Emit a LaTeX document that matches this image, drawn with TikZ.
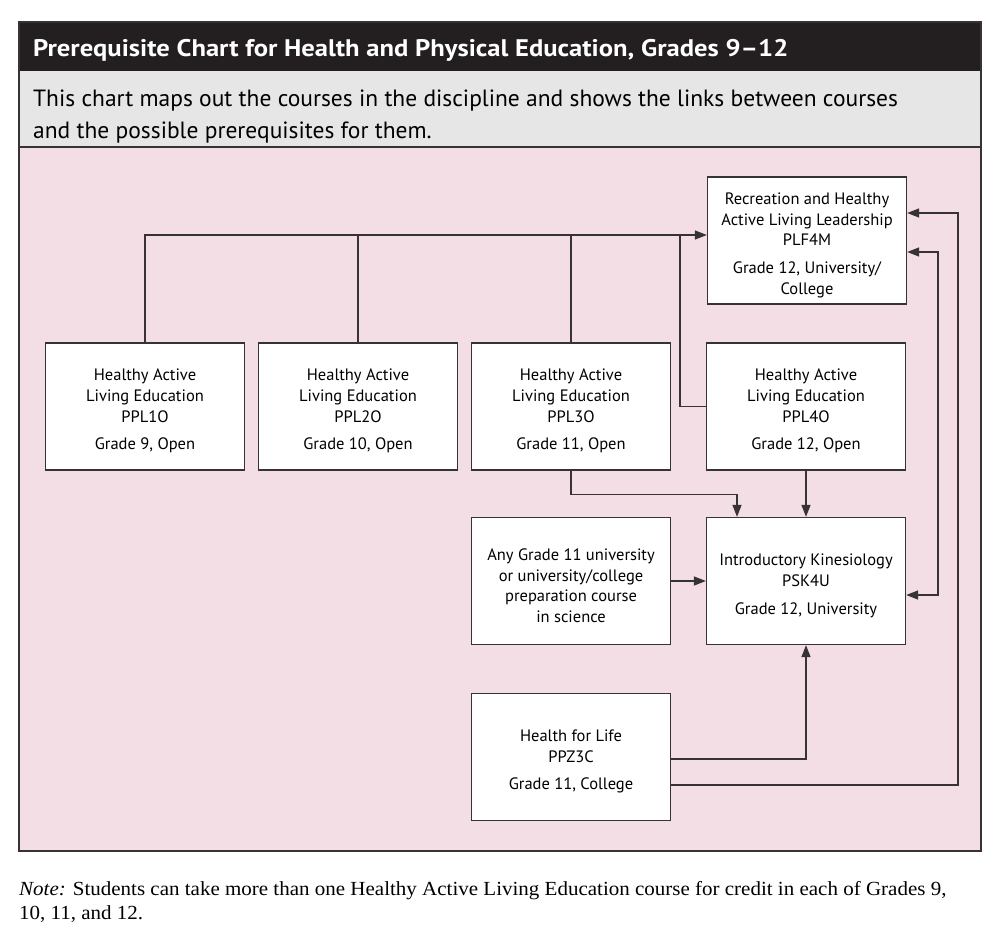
\documentclass[tikz,border=0pt]{standalone}
\usepackage{fontspec}
\setmainfont{PT Sans}
\newfontfamily\notefont{Liberation Serif}
\usetikzlibrary{arrows.meta,calc}
\definecolor{pinkbg}{RGB}{242,222,228}
\definecolor{grayband}{RGB}{230,230,230}
\definecolor{darkband}{RGB}{35,31,32}
\definecolor{linec}{RGB}{55,50,52}
\newcommand{\topstrut}{\rule{0pt}{21pt}}
\tikzset{
  course/.style={draw=linec, line width=1.3pt, fill=white, minimum width=199pt, minimum height=127pt, align=center, inner sep=0pt, font=\fontsize{16.5}{20.7}\selectfont},
  conn/.style={draw=linec, line width=1.3pt},
  arr/.style={conn, -{Triangle[length=12pt,width=9pt]}},
  arrtwo/.style={conn, {Triangle[length=12pt,width=9pt]}-{Triangle[length=12pt,width=9pt]}}
}
\begin{document}
\begin{tikzpicture}[x=1pt,y=-1pt]
\useasboundingbox (0,0) rectangle (1000,936);
\fill[white] (0,0) rectangle (1000,936);
% frame bands
\fill[darkband] (19,22) rectangle (981,71);
\fill[grayband] (19,71) rectangle (981,147);
\fill[pinkbg] (19,147) rectangle (981,851);
\draw[linec, line width=1.3pt] (19,147) -- (981,147);
\draw[linec, line width=1.3pt] (19,22) rectangle (981,851);
\node[anchor=base west, text=white, inner sep=0pt, font=\fontsize{24}{28}\selectfont\bfseries] (title) at (33,57) {\scalebox{1.108}[1]{Prerequisite Chart for Health and Physical Education, Grades 9--12}};
\node[anchor=base west, inner sep=0pt, font=\fontsize{23.5}{31.5}\selectfont] (sub) at (33,107) {This chart maps out the courses in the discipline and shows the links between courses};
\node[anchor=base west, inner sep=0pt, font=\fontsize{23.5}{31.5}\selectfont] (sub2) at (33,138.5) {and the possible prerequisites for them.};
% boxes
\node[course] (plf) at (807,240.5) {\topstrut Recreation and Healthy\\Active Living Leadership\\PLF4M\\[7pt]Grade 12, University/\\College};
\node[course] (p1) at (145,406.5) {\topstrut Healthy Active\\Living Education\\PPL1O\\[7pt]Grade 9, Open};
\node[course] (p2) at (358,406.5) {\topstrut Healthy Active\\Living Education\\PPL2O\\[7pt]Grade 10, Open};
\node[course] (p3) at (571,406.5) {\topstrut Healthy Active\\Living Education\\PPL3O\\[7pt]Grade 11, Open};
\node[course] (p4) at (806,406.5) {\topstrut Healthy Active\\Living Education\\PPL4O\\[7pt]Grade 12, Open};
\node[course] (any) at (571,581) {\topstrut Any Grade 11 university\\or university/college\\preparation course\\in science};
\node[course] (psk) at (806,581) {\topstrut Introductory Kinesiology\\PSK4U\\[7pt]Grade 12, University};
\node[course] (ppz) at (571,757) {\topstrut Health for Life\\PPZ3C\\[7pt]Grade 11, College};
% connectors
\coordinate (plfin) at ($(plf.west)+(0,-5.5)$);
\coordinate (jn) at (680,235);
\draw[arr] (p1.north) |- (plfin);
\draw[conn] (p2.north) -- (p2.north |- plfin);
\draw[conn] (p3.north) -- (p3.north |- plfin);
\draw[conn] (p4.west) -| (jn);
\coordinate (pskin) at ($(psk.north)+(-69,0)$);
\draw[arr] (p3.south) -- ++(0,24) -| (pskin);
\draw[arr] (p4.south) -- (psk.north);
\draw[arr] (any.east) -- (psk.west);
\draw[arr] ($(ppz.east)+(0,2)$) -| (psk.south);
\coordinate (c1) at (958,213);
\draw[arr] ($(ppz.east)+(0,28)$) -| (c1) -- (c1 -| plf.east);
\coordinate (c2) at (938,252);
\draw[arrtwo] ($(psk.east)+(0,14)$) -| (c2) -- (c2 -| plf.east);
% note
\node[anchor=base west, inner sep=0pt, font=\notefont\fontsize{20}{24}\selectfont] (note) at (19,895) {\scalebox{1.05}[1]{\textit{Note:} Students can take more than one Healthy Active Living Education course for credit in each of Grades 9,}};
\node[anchor=base west, inner sep=0pt, font=\notefont\fontsize{20}{24}\selectfont] (note2) at (19,919) {\scalebox{1.05}[1]{10, 11, and 12.}};
\end{tikzpicture}
\end{document}
